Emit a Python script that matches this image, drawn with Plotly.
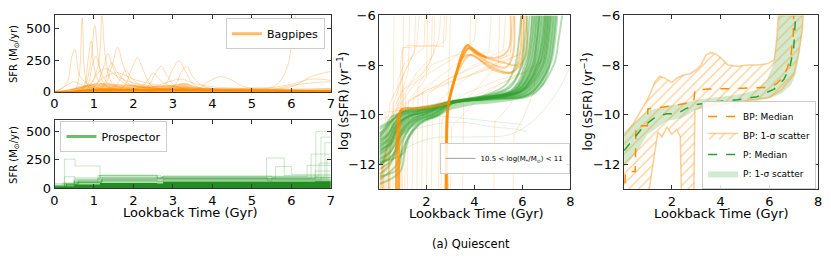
import plotly.graph_objects as go

W, H = 831, 262
ORANGE = "#ff8c00"
GREEN = "#2ca02c"
FONT = "DejaVu Sans"

# ---------------- top-left: Bagpipes SFR histories (Gyr, Msun/yr) ----------------
BP_SFR_T = [
    [0, 0.5, 0.62, 0.7, 0.78, 0.9, 1.5, 3, 5, 7],
    [0, 0.8, 1.1, 1.2, 1.3, 1.5, 2.5, 4, 7],
    [0, 0.7, 0.9, 1.02, 1.12, 1.3, 3, 7],
    [0, 0.3, 0.45, 0.52, 0.65, 1.0, 2, 7],
    [0, 0.7, 0.85, 0.93, 1.0, 1.2, 3, 7],
    [0, 1.2, 1.45, 1.6, 1.75, 2.0, 3, 7],
    [0, 1.0, 1.25, 1.35, 1.45, 1.7, 3, 7],
    [0, 1.7, 1.95, 2.1, 2.25, 2.5, 4, 7],
    [0, 2.7, 3.0, 3.15, 3.3, 3.6, 5, 7],
    [0, 2.3, 2.55, 2.7, 2.85, 3.1, 5, 7],
    [0, 3.6, 3.9, 4.2, 4.5, 4.8, 6, 7],
    [0, 3, 5, 5.6, 5.9, 6.05, 6.15],
    [0, 4, 6, 6.5, 7],
    [0, 5, 6, 6.5, 7],
    [0, 0.8, 0.95, 1.05, 1.15, 1.4, 3, 7],
    [0, 1.2, 1.35, 1.45, 1.6, 1.9, 3, 7],
    [0, 1.5, 1.7, 1.8, 1.95, 2.2, 4, 7],
    [0, 2.2, 2.4, 2.5, 2.65, 2.9, 4, 7],
    [0, 3.0, 3.2, 3.35, 3.5, 3.8, 5, 7],
    [0, 0.2, 0.35, 0.5, 0.7, 1.0, 3, 7],
    [0, 0.9, 1.1, 1.3, 1.6, 2.0, 4, 7],
    [0, 1.0, 1.3, 1.6, 2.0, 2.5, 4, 7],
    [0, 5.5, 6.0, 6.5, 7],
    [0, 2.5, 2.9, 3.2, 3.5, 4, 6, 7],
]
BP_SFR_V = [
    [0, 10, 120, 580, 120, 30, 20, 15, 8, 5],
    [0, 20, 200, 600, 250, 60, 30, 10, 5],
    [0, 20, 200, 520, 250, 50, 20, 5],
    [0, 60, 290, 330, 120, 40, 20, 5],
    [0, 30, 250, 400, 200, 60, 20, 5],
    [0, 30, 200, 350, 200, 60, 20, 5],
    [0, 40, 200, 300, 220, 80, 20, 5],
    [0, 30, 180, 265, 170, 40, 15, 5],
    [0, 30, 180, 245, 170, 40, 15, 5],
    [0, 30, 140, 200, 130, 40, 15, 5],
    [0, 20, 80, 120, 90, 40, 15, 5],
    [0, 20, 30, 50, 200, 500, 650],
    [0, 10, 40, 120, 160],
    [0, 15, 60, 100, 90],
    [0, 40, 200, 280, 180, 60, 20, 5],
    [0, 40, 160, 230, 150, 60, 20, 5],
    [0, 40, 120, 170, 110, 50, 20, 5],
    [0, 40, 110, 150, 100, 50, 20, 5],
    [0, 40, 150, 200, 120, 40, 15, 5],
    [0, 30, 60, 80, 50, 30, 15, 5],
    [0, 60, 150, 180, 120, 70, 20, 5],
    [0, 60, 120, 150, 100, 60, 25, 8],
    [0, 20, 50, 70, 80],
    [0, 40, 80, 100, 70, 40, 15, 5],
]
BP_DENSE_T = [0, 0.3, 0.6, 0.9, 1.2, 1.6, 2.0, 2.5, 3.0, 3.3, 3.6, 4.0, 5.0, 6.0, 7.0]
BP_DENSE_HI = [0, 15, 40, 60, 70, 60, 55, 45, 55, 70, 40, 30, 25, 25, 30]
BP_DENSE_LO = [0, 5, 15, 22, 26, 25, 22, 20, 24, 26, 18, 14, 12, 11, 12]

# ---------------- bottom-left: Prospector SFR histories (step functions) ----------------
P_SFR_T = [
    [0, 0.25, 0.52, 1.15, 2.6, 5.4, 7],
    [0, 0.25, 0.52, 1.15, 2.6, 5.4, 7],
    [0, 0.3, 0.6, 1.2, 2.7, 5.37, 5.82, 7],
    [0, 0.2, 0.5, 1.1, 2.6, 5.6, 6.0, 7],
    [0, 0.3, 0.6, 1.2, 2.8, 6.62, 7],
    [0, 0.3, 0.6, 1.2, 2.8, 6.75, 7],
    [0, 0.3, 0.6, 1.2, 2.8, 6.5, 7],
    [0, 0.25, 0.5, 1.1, 2.6, 6.85, 7],
    [0, 0.25, 0.5, 1.1, 2.7, 6.9, 7],
    [0, 0.25, 0.5, 1.1, 2.7, 6.4, 7],
    [0, 0.3, 0.55, 1.15, 2.75, 6.7, 7],
    [0, 0.25, 0.5, 1.15, 2.6, 2.75, 5.5, 7],
    [0, 0.3, 0.5, 1.2, 2.6, 5.5, 6.6, 7],
]
P_SFR_V = [
    [30, 255, 195, 100, 80, 60, 60],
    [20, 100, 80, 110, 90, 70, 70],
    [10, 30, 50, 80, 90, 265, 110, 110],
    [20, 45, 70, 90, 85, 190, 120, 120],
    [10, 40, 70, 90, 85, 500, 500],
    [10, 30, 50, 70, 70, 450, 450],
    [10, 30, 60, 80, 85, 300, 300],
    [15, 40, 60, 90, 95, 400, 400],
    [15, 35, 50, 80, 80, 250, 250],
    [15, 35, 90, 110, 100, 200, 200],
    [12, 25, 45, 60, 105, 220, 220],
    [10, 20, 70, 115, 95, 105, 95, 95],
    [40, 20, 50, 70, 60, 80, 150, 150],
]
P_DENSE_T = [0, 0.25, 0.5, 1.15, 2.6, 2.75, 5.5, 6.6, 7]
P_DENSE_HI = [25, 35, 60, 75, 65, 85, 90, 100, 100]
P_DENSE_LO = [10, 15, 30, 45, 40, 55, 55, 60, 60]

# ---------------- middle: individual log sSFR histories ----------------
G_SSFR_X = [
    [0.05, 0.5, 0.8, 1.2, 2.0, 3.0, 4.5, 5.3, 5.7, 5.85, 5.95],
    [0.05, 0.4, 0.7, 1.1, 2.0, 3.0, 4.5, 5.5, 5.95, 6.1, 6.2],
    [0.05, 0.6, 0.8, 1.2, 2.0, 3.0, 4.5, 5.6, 6.1, 6.3, 6.4],
    [0.05, 0.5, 0.9, 1.4, 2.2, 3.0, 4.5, 5.7, 6.3, 6.5, 6.6],
    [0.05, 0.6, 1.0, 1.5, 2.3, 3.0, 4.5, 5.8, 6.5, 6.7, 6.8],
    [0.05, 0.7, 1.1, 1.6, 2.4, 3.0, 4.6, 6.0, 6.7, 6.9, 7.0],
    [0.05, 0.3, 0.6, 1.0, 2.0, 3.0, 4.6, 6.1, 6.85, 7.05, 7.15],
    [0.05, 0.5, 0.78, 1.2, 2.1, 3.0, 4.7, 6.2, 7.0, 7.2, 7.3],
    [0.05, 0.7, 0.85, 1.3, 2.2, 3.0, 4.7, 6.3, 7.15, 7.35, 7.45],
    [0.05, 0.4, 0.75, 1.3, 2.2, 3.0, 4.6, 6.0, 6.6, 6.8, 6.9],
    [0.05, 0.9, 1.2, 1.7, 2.5, 3.0, 4.6, 6.1, 6.9, 7.1, 7.2],
    [0.05, 0.4, 0.8, 1.3, 2.1, 3.0, 4.4, 5.4, 6.0, 6.2, 6.3],
    [0.05, 0.3, 0.55, 1.0, 2.0, 3.0, 4.8, 6.4, 7.3, 7.5, 7.65],
    [0.05, 0.5, 0.8, 1.2, 2.0, 3.0, 4.4, 5.8, 6.4, 6.6, 6.7],
    [0.05, 1.0, 1.3, 1.8, 2.6, 3.1, 4.5, 5.9, 6.7, 6.95, 7.05],
    [0.05, 0.6, 0.9, 1.3, 2.2, 3.0, 4.5, 5.9, 6.45, 6.6, 6.7],
    [0.05, 0.45, 0.7, 1.1, 1.9, 3.0, 4.6, 6.0, 6.8, 7.0, 7.1],
    [0.05, 0.55, 0.95, 1.4, 2.3, 3.0, 4.5, 5.7, 6.2, 6.4, 6.5],
    [0.05, 0.35, 0.65, 1.0, 2.0, 3.0, 4.7, 6.3, 7.1, 7.3, 7.4],
    [0.05, 0.8, 1.05, 1.5, 2.4, 3.0, 4.5, 5.9, 6.6, 6.85, 6.95],
]
G_SSFR_Y = [
    [-10.6, -10.3, -10.0, -9.8, -9.7, -9.5, -9.2, -8.8, -8.0, -7.0, -6.0],
    [-11.0, -10.8, -10.3, -10.0, -9.8, -9.5, -9.25, -8.9, -8.0, -7.0, -6.0],
    [-11.4, -11.1, -10.5, -10.1, -9.85, -9.5, -9.3, -9.0, -8.0, -7.0, -6.0],
    [-11.8, -11.5, -10.8, -10.2, -9.9, -9.55, -9.3, -9.0, -8.0, -7.0, -6.0],
    [-12.2, -11.8, -11.0, -10.3, -9.95, -9.55, -9.35, -9.05, -8.0, -7.0, -6.0],
    [-12.6, -12.1, -11.2, -10.4, -10.0, -9.55, -9.35, -9.05, -8.0, -7.0, -6.0],
    [-10.9, -10.6, -10.2, -9.95, -9.75, -9.5, -9.3, -9.0, -8.0, -7.0, -6.0],
    [-11.6, -11.2, -10.5, -10.1, -9.85, -9.5, -9.35, -9.1, -8.0, -7.0, -6.0],
    [-12.0, -11.5, -10.8, -10.2, -9.9, -9.5, -9.4, -9.15, -8.0, -7.0, -6.0],
    [-11.2, -11.0, -10.4, -10.05, -9.85, -9.5, -9.3, -9.0, -8.0, -7.0, -6.0],
    [-12.8, -12.3, -11.0, -10.4, -10.0, -9.55, -9.35, -9.1, -8.0, -7.0, -6.0],
    [-11.5, -11.2, -10.6, -10.1, -9.85, -9.5, -9.25, -8.9, -8.0, -7.0, -6.0],
    [-10.8, -10.5, -10.1, -9.9, -9.75, -9.5, -9.35, -9.2, -8.0, -7.0, -6.0],
    [-12.4, -12.0, -11.1, -10.4, -9.95, -9.5, -9.3, -9.0, -8.0, -7.0, -6.0],
    [-11.9, -11.6, -10.9, -10.3, -9.95, -9.55, -9.35, -9.05, -8.0, -7.0, -6.0],
    [-10.5, -10.2, -9.95, -9.8, -9.7, -9.5, -9.3, -8.95, -8.0, -7.0, -6.0],
    [-11.3, -11.0, -10.5, -10.1, -9.8, -9.5, -9.3, -9.05, -8.0, -7.0, -6.0],
    [-12.0, -11.7, -10.9, -10.3, -9.95, -9.55, -9.3, -9.0, -8.0, -7.0, -6.0],
    [-11.1, -10.9, -10.4, -10.0, -9.8, -9.5, -9.35, -9.15, -8.0, -7.0, -6.0],
    [-12.5, -12.2, -11.0, -10.35, -9.95, -9.55, -9.35, -9.05, -8.0, -7.0, -6.0],
]
GF_SSFR_X = [
    [0.05, 1.0, 3.0, 5.0, 6.0],
    [0.05, 1.5, 3.2, 4.8, 5.8, 6.2],
    [0.05, 2.0, 4.0, 5.5, 6.5, 7.5, 8.0],
]
GF_SSFR_Y = [
    [-10.2, -10.0, -10.1, -10.3, -10.4],
    [-11.3, -10.6, -10.3, -10.5, -10.6, -10.7],
    [-12.0, -11.0, -10.9, -10.8, -10.2, -9.0, -8.0],
]
O_SSFR_X = [
    [0.3, 0.35, 0.5, 1.0, 1.6, 1.7],
    [0.5, 0.55, 1.0, 2.0, 2.5, 2.6],
    [0.7, 0.75, 1.5, 3.0, 4.5, 5.5, 5.7],
    [0.9, 0.92, 1.0, 2.5, 2.8, 2.85],
    [1.2, 1.25, 2.0, 3.5, 5.0, 6.0, 6.1],
    [0.15, 0.2, 0.6, 0.65],
    [1.8, 1.85, 2.5, 3.5, 3.8, 3.85],
    [0.4, 0.45, 1.2, 2.2, 2.25],
    [2.2, 2.25, 3.0, 4.0, 5.0, 5.8, 6.0],
    [1.0, 1.05, 2.0, 3.0, 4.0, 4.1],
    [3.0, 3.05, 4.0, 5.0, 6.0, 6.3, 6.4],
    [4.8, 4.85, 5.5, 6.0, 6.05],
    [5.6, 5.65, 6.0, 6.5, 6.55],
    [0.6, 0.62, 1.0, 1.5, 1.55],
    [1.4, 1.45, 2.5, 4.0, 5.2, 5.3],
    [0.05, 0.3, 1.0, 2.0, 2.05],
    [0.05, 0.8, 1.0, 1.05],
    [2.5, 2.55, 3.5, 5.0, 6.5, 7.0, 7.05],
    [0.25, 0.3, 2.0, 2.9, 3.0],
    [3.5, 3.55, 4.5, 5.0, 5.05],
    [0.95, 1.0, 1.2, 2.7, 2.75],
    [1.6, 1.65, 2.2, 3.2, 4.6, 4.7],
    [2.0, 2.05, 2.8, 4.2, 5.5, 5.6],
    [0.8, 0.82, 1.1, 1.9, 1.95],
    [1.1, 1.12, 1.6, 2.3, 2.35],
    [0.35, 0.38, 0.9, 1.25, 1.3],
    [2.6, 2.65, 3.2, 4.8, 5.9, 6.9, 6.95],
]
O_SSFR_Y = [
    [-13.5, -10.5, -9.5, -8.5, -7.2, -6.0],
    [-13.5, -10.0, -9.0, -8.2, -7.0, -6.0],
    [-13.5, -9.8, -9.3, -8.7, -8.2, -7.5, -6.0],
    [-13.5, -8.0, -7.3, -7.2, -7.0, -6.0],
    [-13.5, -9.5, -9.0, -8.5, -8.0, -7.5, -6.0],
    [-13.5, -11.0, -10.5, -6.0],
    [-13.5, -9.0, -8.5, -7.8, -7.2, -6.0],
    [-13.5, -10.2, -9.2, -7.8, -6.0],
    [-13.5, -9.8, -9.0, -8.3, -7.9, -7.6, -6.0],
    [-13.5, -9.0, -8.4, -7.8, -7.0, -6.0],
    [-13.5, -10.5, -9.5, -8.8, -8.3, -7.5, -6.0],
    [-13.5, -10.3, -9.6, -8.5, -6.0],
    [-13.5, -10.8, -10.2, -9.0, -6.0],
    [-13.5, -9.6, -8.5, -7.5, -6.0],
    [-13.5, -9.3, -8.8, -8.0, -7.4, -6.0],
    [-11.0, -10.6, -9.8, -8.5, -6.0],
    [-12.5, -11.5, -9.5, -6.0],
    [-13.5, -10.0, -9.2, -8.6, -8.2, -7.5, -6.0],
    [-13.5, -9.9, -9.7, -9.5, -6.0],
    [-13.5, -9.5, -8.5, -7.9, -6.0],
    [-13.5, -7.4, -7.2, -7.25, -6.0],
    [-13.5, -8.8, -8.0, -7.6, -7.5, -6.0],
    [-13.5, -9.2, -8.6, -8.0, -7.6, -6.0],
    [-13.5, -8.6, -7.9, -7.3, -6.0],
    [-13.5, -9.1, -8.3, -7.6, -6.0],
    [-13.5, -10.6, -9.4, -8.2, -6.0],
    [-13.5, -10.2, -9.6, -8.9, -8.4, -7.8, -6.0],
]
OM_SSFR_X = [
    [2.84, 2.9, 3.2, 3.6, 3.8, 4.5, 5.2, 5.8, 6.0, 6.05],
    [2.86, 2.92, 3.3, 3.7, 4.0, 4.6, 5.3, 5.6, 5.65],
    [2.82, 2.88, 3.1, 3.5, 3.9, 4.8, 5.5, 6.1, 6.15],
    [2.9, 2.95, 3.3, 3.8, 4.4, 5.0, 5.6, 5.9, 5.95],
    [2.88, 2.95, 3.4, 3.75, 4.2, 4.9, 5.4, 5.5],
    [0.2, 0.22, 0.3, 0.5],
    [0.45, 0.47, 0.6, 0.8],
    [0.1, 0.12, 0.2, 0.35],
]
OM_SSFR_Y = [
    [-13.5, -9.6, -8.5, -7.5, -7.3, -7.7, -7.9, -8.0, -7.5, -6.0],
    [-13.5, -9.55, -8.2, -7.3, -7.5, -7.9, -8.1, -7.6, -6.0],
    [-13.5, -9.65, -8.9, -7.7, -7.6, -8.2, -8.3, -7.7, -6.0],
    [-13.5, -9.5, -8.3, -7.6, -7.9, -8.2, -8.3, -7.5, -6.0],
    [-13.5, -9.4, -7.9, -7.35, -7.6, -7.7, -7.4, -6.0],
    [-13.5, -12.0, -11.5, -11.0],
    [-13.5, -11.5, -10.9, -10.3],
    [-13.5, -12.4, -11.9, -11.6],
]
OH_SSFR_X = [
    [2.8, 2.84, 2.88, 2.95, 3.2, 3.5, 3.7, 3.8, 4.1, 4.5],
    [0.85, 0.88, 0.95, 1.5, 2.2, 2.85, 3.0],
    [0.75, 0.78, 0.85, 1.0],
]
OH_SSFR_Y = [
    [-13.5, -11.0, -9.8, -9.45, -8.5, -7.5, -7.2, -7.25, -7.5, -7.7],
    [-13.5, -10.5, -9.8, -9.75, -9.68, -9.55, -9.5],
    [-13.5, -10.8, -10.0, -9.8],
]

# ---------------- right: medians and 1-sigma bands ----------------
P_MED_X = [0.05, 0.4, 0.7, 1.0, 1.4, 1.8, 2.2, 2.6, 3.0, 3.9, 4.7, 5.5, 6.2, 6.6, 6.85, 7.0, 7.05, 7.08]
P_MED_Y = [-11.45, -11.0, -10.65, -10.35, -10.05, -9.97, -9.97, -9.75, -9.6, -9.47, -9.4, -9.28, -8.97, -8.58, -8.05, -7.3, -6.5, -6.0]
P_UP_X = [0.05, 0.5, 1.0, 1.8, 2.4, 3.0, 4.0, 4.7, 5.5, 5.9, 6.15, 6.28, 6.35, 6.38]
P_UP_Y = [-10.7, -10.3, -9.85, -9.65, -9.55, -9.4, -9.3, -9.2, -9.0, -8.6, -8.0, -7.2, -6.5, -6.0]
P_LO_X = [0.05, 0.5, 1.0, 1.8, 2.4, 3.0, 4.0, 4.7, 5.5, 6.0, 6.5, 6.9, 7.1, 7.25, 7.35, 7.4]
P_LO_Y = [-12.1, -11.6, -10.8, -10.25, -10.15, -9.8, -9.6, -9.55, -9.45, -9.35, -9.15, -8.8, -8.3, -7.5, -6.7, -6.0]

BP_MED_X = [0.05, 0.1, 0.5, 0.53, 1.0, 1.02, 1.5, 2.0, 2.5, 2.9, 2.95, 3.5, 4.5, 5.5, 6.0, 6.3, 6.55, 6.75, 6.9, 6.98, 7.0]
BP_MED_Y = [-13.5, -12.3, -12.3, -10.45, -10.45, -9.77, -9.72, -9.65, -9.58, -9.5, -9.0, -8.97, -8.95, -8.93, -8.9, -8.75, -8.5, -8.1, -7.5, -6.8, -6.0]
BP_UP_X = [0.05, 0.4, 0.73, 1.0, 1.14, 1.3, 1.5, 1.75, 2.0, 2.25, 2.5, 2.75, 3.0, 3.2, 3.4, 3.6, 3.8, 4.0, 4.3, 4.7, 5.1, 5.5, 5.9, 6.2, 6.3, 6.37, 7.39]
BP_UP_Y = [-10.85, -10.4, -9.85, -9.4, -9.1, -8.7, -8.45, -8.55, -8.7, -8.5, -8.4, -8.35, -8.2, -8.0, -7.6, -7.5, -7.55, -7.7, -8.0, -8.05, -8.0, -8.0, -7.95, -7.8, -7.0, -6.0, -6.0]
BP_LO_X = [7.39, 7.35, 7.2, 7.0, 6.5, 6.0, 5.0, 4.0, 3.2, 2.95, 2.9, 2.4, 2.35, 2.2, 2.0, 1.8, 1.6, 1.43, 1.0, 0.05]
BP_LO_Y = [-6.0, -6.6, -7.5, -8.4, -9.0, -9.3, -9.45, -9.6, -9.7, -9.8, -13.5, -13.5, -10.9, -10.6, -10.8, -10.5, -10.9, -10.7, -13.5, -13.5]

LEGEND_MASS = "10.5 < log(M<sub>*</sub>/M<sub>⊙</sub>) < 11"


def rgba(hexc, a):
    h = hexc.lstrip("#")
    return "rgba(%d,%d,%d,%.3f)" % (int(h[0:2], 16), int(h[2:4], 16), int(h[4:6], 16), a)


fig = go.Figure()

# ---- top-left
fig.add_trace(go.Scatter(x=BP_DENSE_T, y=BP_DENSE_HI, mode="lines", line=dict(width=0, shape="spline"),
                         fill="tozeroy", fillcolor=rgba(ORANGE, 0.45), showlegend=False,
                         xaxis="x", yaxis="y", hoverinfo="skip"))
for t, v in zip(BP_SFR_T, BP_SFR_V):
    fig.add_trace(go.Scatter(x=t, y=v, mode="lines", line=dict(color=rgba(ORANGE, 0.3), width=1, shape="spline"),
                             showlegend=False, xaxis="x", yaxis="y", hoverinfo="skip"))
fig.add_trace(go.Scatter(x=BP_DENSE_T, y=BP_DENSE_LO, mode="lines", line=dict(width=0, shape="spline"),
                         fill="tozeroy", fillcolor=ORANGE, showlegend=False,
                         xaxis="x", yaxis="y", hoverinfo="skip"))
fig.add_trace(go.Scatter(x=[None], y=[None], mode="lines", name="Bagpipes",
                         line=dict(color=rgba(ORANGE, 0.6), width=3), legend="legend",
                         xaxis="x", yaxis="y"))

# ---- bottom-left
fig.add_trace(go.Scatter(x=P_DENSE_T, y=P_DENSE_HI, mode="lines", line=dict(width=0, shape="hv"),
                         fill="tozeroy", fillcolor=rgba(GREEN, 0.35), showlegend=False,
                         xaxis="x2", yaxis="y2", hoverinfo="skip"))
for t, v in zip(P_SFR_T, P_SFR_V):
    fig.add_trace(go.Scatter(x=t, y=v, mode="lines", line=dict(color=rgba(GREEN, 0.25), width=1, shape="hv"),
                             showlegend=False, xaxis="x2", yaxis="y2", hoverinfo="skip"))
fig.add_trace(go.Scatter(x=P_DENSE_T, y=P_DENSE_LO, mode="lines", line=dict(width=0, shape="hv"),
                         fill="tozeroy", fillcolor=rgba("#228b22", 1.0), showlegend=False,
                         xaxis="x2", yaxis="y2", hoverinfo="skip"))
fig.add_trace(go.Scatter(x=[None], y=[None], mode="lines", name="Prospector",
                         line=dict(color=rgba(GREEN, 0.7), width=3), legend="legend2",
                         xaxis="x2", yaxis="y2"))

# ---- middle
for x, y in zip(O_SSFR_X, O_SSFR_Y):
    fig.add_trace(go.Scatter(x=x, y=y, mode="lines", line=dict(color=rgba(ORANGE, 0.2), width=1),
                             showlegend=False, xaxis="x3", yaxis="y3", hoverinfo="skip"))
for x, y in zip(OM_SSFR_X, OM_SSFR_Y):
    fig.add_trace(go.Scatter(x=x, y=y, mode="lines", line=dict(color=rgba(ORANGE, 0.4), width=2, shape="spline"),
                             showlegend=False, xaxis="x3", yaxis="y3", hoverinfo="skip"))
for x, y in zip(GF_SSFR_X, GF_SSFR_Y):
    fig.add_trace(go.Scatter(x=x, y=y, mode="lines", line=dict(color=rgba(GREEN, 0.15), width=1, shape="spline"),
                             showlegend=False, xaxis="x3", yaxis="y3", hoverinfo="skip"))
# density backdrop of the Prospector curves (same 1-sigma envelope as the right panel)
fig.add_trace(go.Scatter(x=P_UP_X + [7.4] + P_LO_X[::-1], y=P_UP_Y + [-6.0] + P_LO_Y[::-1], mode="lines",
                         fill="toself", fillcolor=rgba(GREEN, 0.35), line=dict(width=0), showlegend=False,
                         xaxis="x3", yaxis="y3", hoverinfo="skip"))
for x, y in zip(G_SSFR_X, G_SSFR_Y):
    fig.add_trace(go.Scatter(x=x, y=y, mode="lines", line=dict(color=rgba(GREEN, 0.35), width=2, shape="spline"),
                             showlegend=False, xaxis="x3", yaxis="y3", hoverinfo="skip"))
for x, y in zip(OH_SSFR_X, OH_SSFR_Y):
    fig.add_trace(go.Scatter(x=x, y=y, mode="lines", line=dict(color=rgba(ORANGE, 0.75), width=2.5, shape="spline"),
                             showlegend=False, xaxis="x3", yaxis="y3", hoverinfo="skip"))
fig.add_trace(go.Scatter(x=[None], y=[None], mode="lines", name=LEGEND_MASS,
                         line=dict(color="#a0a0a0", width=1), legend="legend3",
                         xaxis="x3", yaxis="y3"))

# ---- right
fig.add_trace(go.Scatter(x=P_UP_X + [7.4] + P_LO_X[::-1], y=P_UP_Y + [-6.0] + P_LO_Y[::-1], mode="lines",
                         name="P: 1-σ scatter", fill="toself", fillcolor=rgba(GREEN, 0.22),
                         line=dict(width=0), legend="legend4", legendrank=4,
                         xaxis="x4", yaxis="y4", hoverinfo="skip"))
fig.add_trace(go.Scatter(x=BP_UP_X + BP_LO_X, y=BP_UP_Y + BP_LO_Y, mode="lines", name="BP: 1-σ scatter",
                         fill="toself", fillcolor="rgba(255,255,255,0)",
                         fillpattern=dict(shape="/", fgcolor=rgba(ORANGE, 0.85), bgcolor="rgba(255,255,255,0)",
                                          size=7, solidity=0.18),
                         line=dict(color=rgba("#ffa030", 0.5), width=1.5), legend="legend4", legendrank=2,
                         xaxis="x4", yaxis="y4", hoverinfo="skip"))
fig.add_trace(go.Scatter(x=BP_MED_X, y=BP_MED_Y, mode="lines", name="BP: Median",
                         line=dict(color=ORANGE, width=1.5, dash="dash"), legend="legend4", legendrank=1,
                         xaxis="x4", yaxis="y4", hoverinfo="skip"))
fig.add_trace(go.Scatter(x=P_MED_X, y=P_MED_Y, mode="lines", name="P: Median",
                         line=dict(color=GREEN, width=1.5, dash="dash"), legend="legend4", legendrank=3,
                         xaxis="x4", yaxis="y4", hoverinfo="skip"))


def px_x(a, b):
    return [a / W, b / W]


def px_y(top, bottom):
    return [1 - bottom / H, 1 - top / H]


axis_common = dict(showline=True, linecolor="#333333", linewidth=1, mirror="ticks", ticks="inside",
                   ticklen=4, tickcolor="#333333", showgrid=False, zeroline=False,
                   tickfont=dict(family=FONT, size=13, color="black"))

legend_common = dict(bgcolor="rgba(255,255,255,0.85)", bordercolor="#cccccc", borderwidth=1, itemwidth=30,
                     tracegroupgap=0)

fig.update_layout(
    width=W, height=H, margin=dict(l=0, r=0, t=0, b=0),
    paper_bgcolor="white", plot_bgcolor="white",
    font=dict(family=FONT, color="black"),
    xaxis=dict(domain=px_x(51, 330), range=[0, 7], dtick=1, anchor="y", **axis_common),
    yaxis=dict(domain=px_y(9, 90), range=[0, 600], tickvals=[0, 250, 500], anchor="x", **axis_common),
    xaxis2=dict(domain=px_x(51, 330), range=[0, 7], dtick=1, anchor="y2", **axis_common),
    yaxis2=dict(domain=px_y(120, 192), range=[0, 600], tickvals=[0, 250, 500], anchor="x2", **axis_common),
    xaxis3=dict(domain=px_x(379, 572), range=[0.04, 8], tickvals=[2, 4, 6, 8], anchor="y3", **axis_common),
    yaxis3=dict(domain=px_y(9, 193), range=[-13, -6], tickvals=[-12, -10, -8, -6], anchor="x3", **axis_common),
    xaxis4=dict(domain=px_x(626, 822), range=[0.04, 8], tickvals=[2, 4, 6, 8], anchor="y4", **axis_common),
    yaxis4=dict(domain=px_y(9, 193), range=[-13, -6], tickvals=[-12, -10, -8, -6], anchor="x4", **axis_common),
    legend=dict(x=324 / W, xanchor="right", y=1 - 12 / H, yanchor="top", font=dict(family=FONT, size=11),
                **legend_common),
    legend2=dict(x=57 / W, xanchor="left", y=1 - 121 / H, yanchor="top", font=dict(family=FONT, size=11),
                 **legend_common),
    legend3=dict(x=571 / W, xanchor="right", y=1 - 177 / H, yanchor="bottom", font=dict(family=FONT, size=7),
                 **legend_common),
    legend4=dict(x=820 / W, xanchor="right", y=1 - 193 / H, yanchor="bottom", font=dict(family=FONT, size=9),
                 traceorder="normal", **legend_common),
)

ann = [
    dict(text="SFR (M<sub>⊙</sub>/yr)", x=10 / W, y=1 - 50 / H, textangle=-90, size=10),
    dict(text="SFR (M<sub>⊙</sub>/yr)", x=10 / W, y=1 - 157 / H, textangle=-90, size=10),
    dict(text="log (sSFR) (yr<sup>−1</sup>)", x=343 / W, y=1 - 100 / H, textangle=-90, size=12),
    dict(text="log (sSFR) (yr<sup>−1</sup>)", x=589 / W, y=1 - 100 / H, textangle=-90, size=12),
    dict(text="Lookback Time (Gyr)", x=188 / W, y=1 - 218 / H, textangle=0, size=13),
    dict(text="Lookback Time (Gyr)", x=477 / W, y=1 - 219 / H, textangle=0, size=13),
    dict(text="Lookback Time (Gyr)", x=724 / W, y=1 - 219 / H, textangle=0, size=13),
    dict(text="(a) Quiescent", x=472 / W, y=1 - 251 / H, textangle=0, size=11.5),
]
for a in ann:
    fig.add_annotation(text=a["text"], x=a["x"], y=a["y"], xref="paper", yref="paper",
                       xanchor="center", yanchor="middle", textangle=a["textangle"], showarrow=False,
                       font=dict(family=FONT, size=a["size"], color="black"))

fig.write_html("out.html", config={"displayModeBar": False},
               post_script="document.body.style.margin='0';")
